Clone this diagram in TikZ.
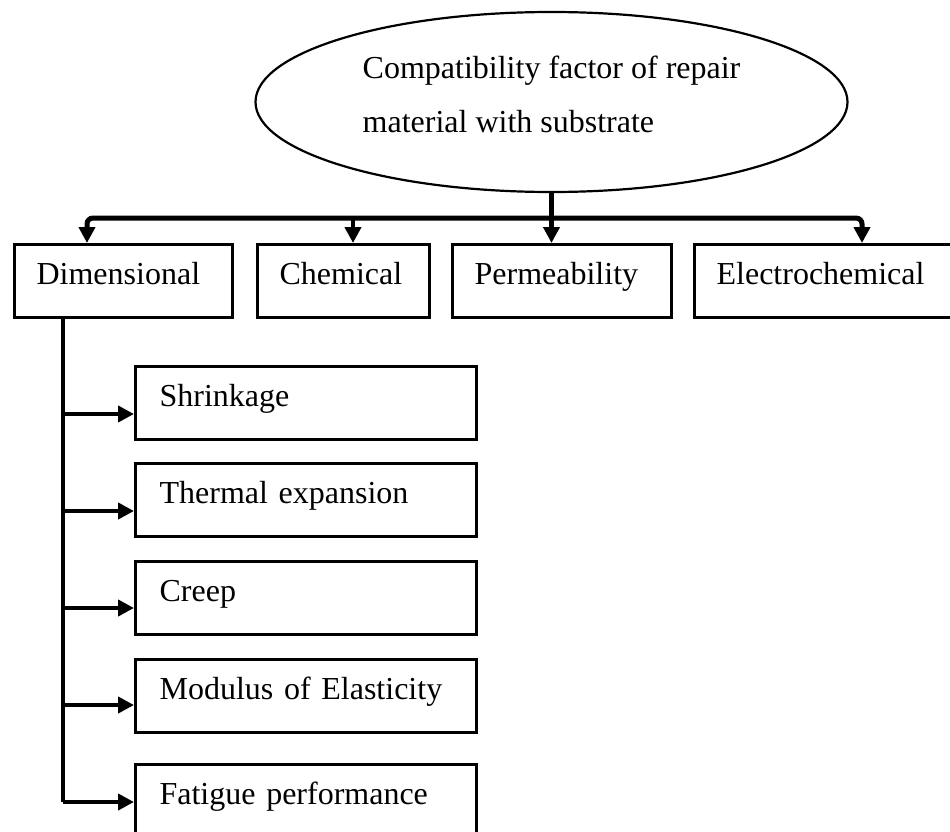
\documentclass[tikz,border=0pt]{standalone}
\usepackage{fontspec}
\setmainfont{Liberation Serif}
\usetikzlibrary{arrows.meta, positioning, shapes.geometric}
\tikzset{>={Triangle[length=16pt,width=16pt]}}
\tikzset{edge/.style = {->, line width=4.2pt}}
\tikzset{box/.style = {draw, rectangle, line width=3.2pt, anchor=north west, minimum height=73pt, inner xsep=22pt, inner ysep=0pt, text width=#1, align=left, text height=22pt, text depth=15pt, font=\fontsize{32}{38}\selectfont}}

\begin{document}
\begin{tikzpicture}[x=1pt, y=-1pt]
    \useasboundingbox (0,0) rectangle (950,832);

    \node[ellipse, draw, line width=2.2pt, minimum width=592pt, minimum height=180pt, inner sep=0pt, align=left, font=\fontsize{32}{54}\selectfont] (top) at (551.5,102) {Compatibility factor of repair\\material with substrate\rule[-16pt]{0pt}{0pt}};

    \node[box=174pt] (dim) at (13,243) {Dimensional};
    \node[box=128pt] (chem) at (256,243) {Chemical};
    \node[box=175pt] (perm) at (451,243) {Permeability};
    \node[box=216pt] (elec) at (693,243) {Electrochemical};

    % points on the bar
    \coordinate (split) at (551.5,218);
    \coordinate (bdim) at (87,218);
    \coordinate (bchem) at (353,218);
    \coordinate (belec) at (862,218);

    % ellipse down to the bar
    \draw[line width=4.2pt] (top.south) -- (split);

    % bar with the two outer arrows
    \draw[edge, <->, line width=5pt, rounded corners=6pt] (bdim |- dim.north) -- (bdim) -- (belec) -- (belec |- elec.north);

    % inner arrows
    \draw[edge] (bchem) -- (bchem |- chem.north);
    \draw[edge] (split) -- (split |- perm.north);

    % sub factors of Dimensional
    \foreach \nm/\txt/\yt/\ya in {shr/Shrinkage/365/414, the/Thermal expansion/462/511, cre/Creep/560/608, mod/Modulus of Elasticity/658/705, fat/Fatigue performance/763/802}{
        \node[box=293pt, inner xsep=24pt] (\nm) at (134,\yt) {\txt};
        \coordinate (s\nm) at (63,\ya);
    }

    % spine from Dimensional
    \draw[line width=4.6pt] (dim.south -| sfat) -- (sfat);

    \foreach \nm in {shr,the,cre,mod,fat}{
        \draw[edge] (s\nm) -- (s\nm -| \nm.west);
    }
\end{tikzpicture}
\end{document}
